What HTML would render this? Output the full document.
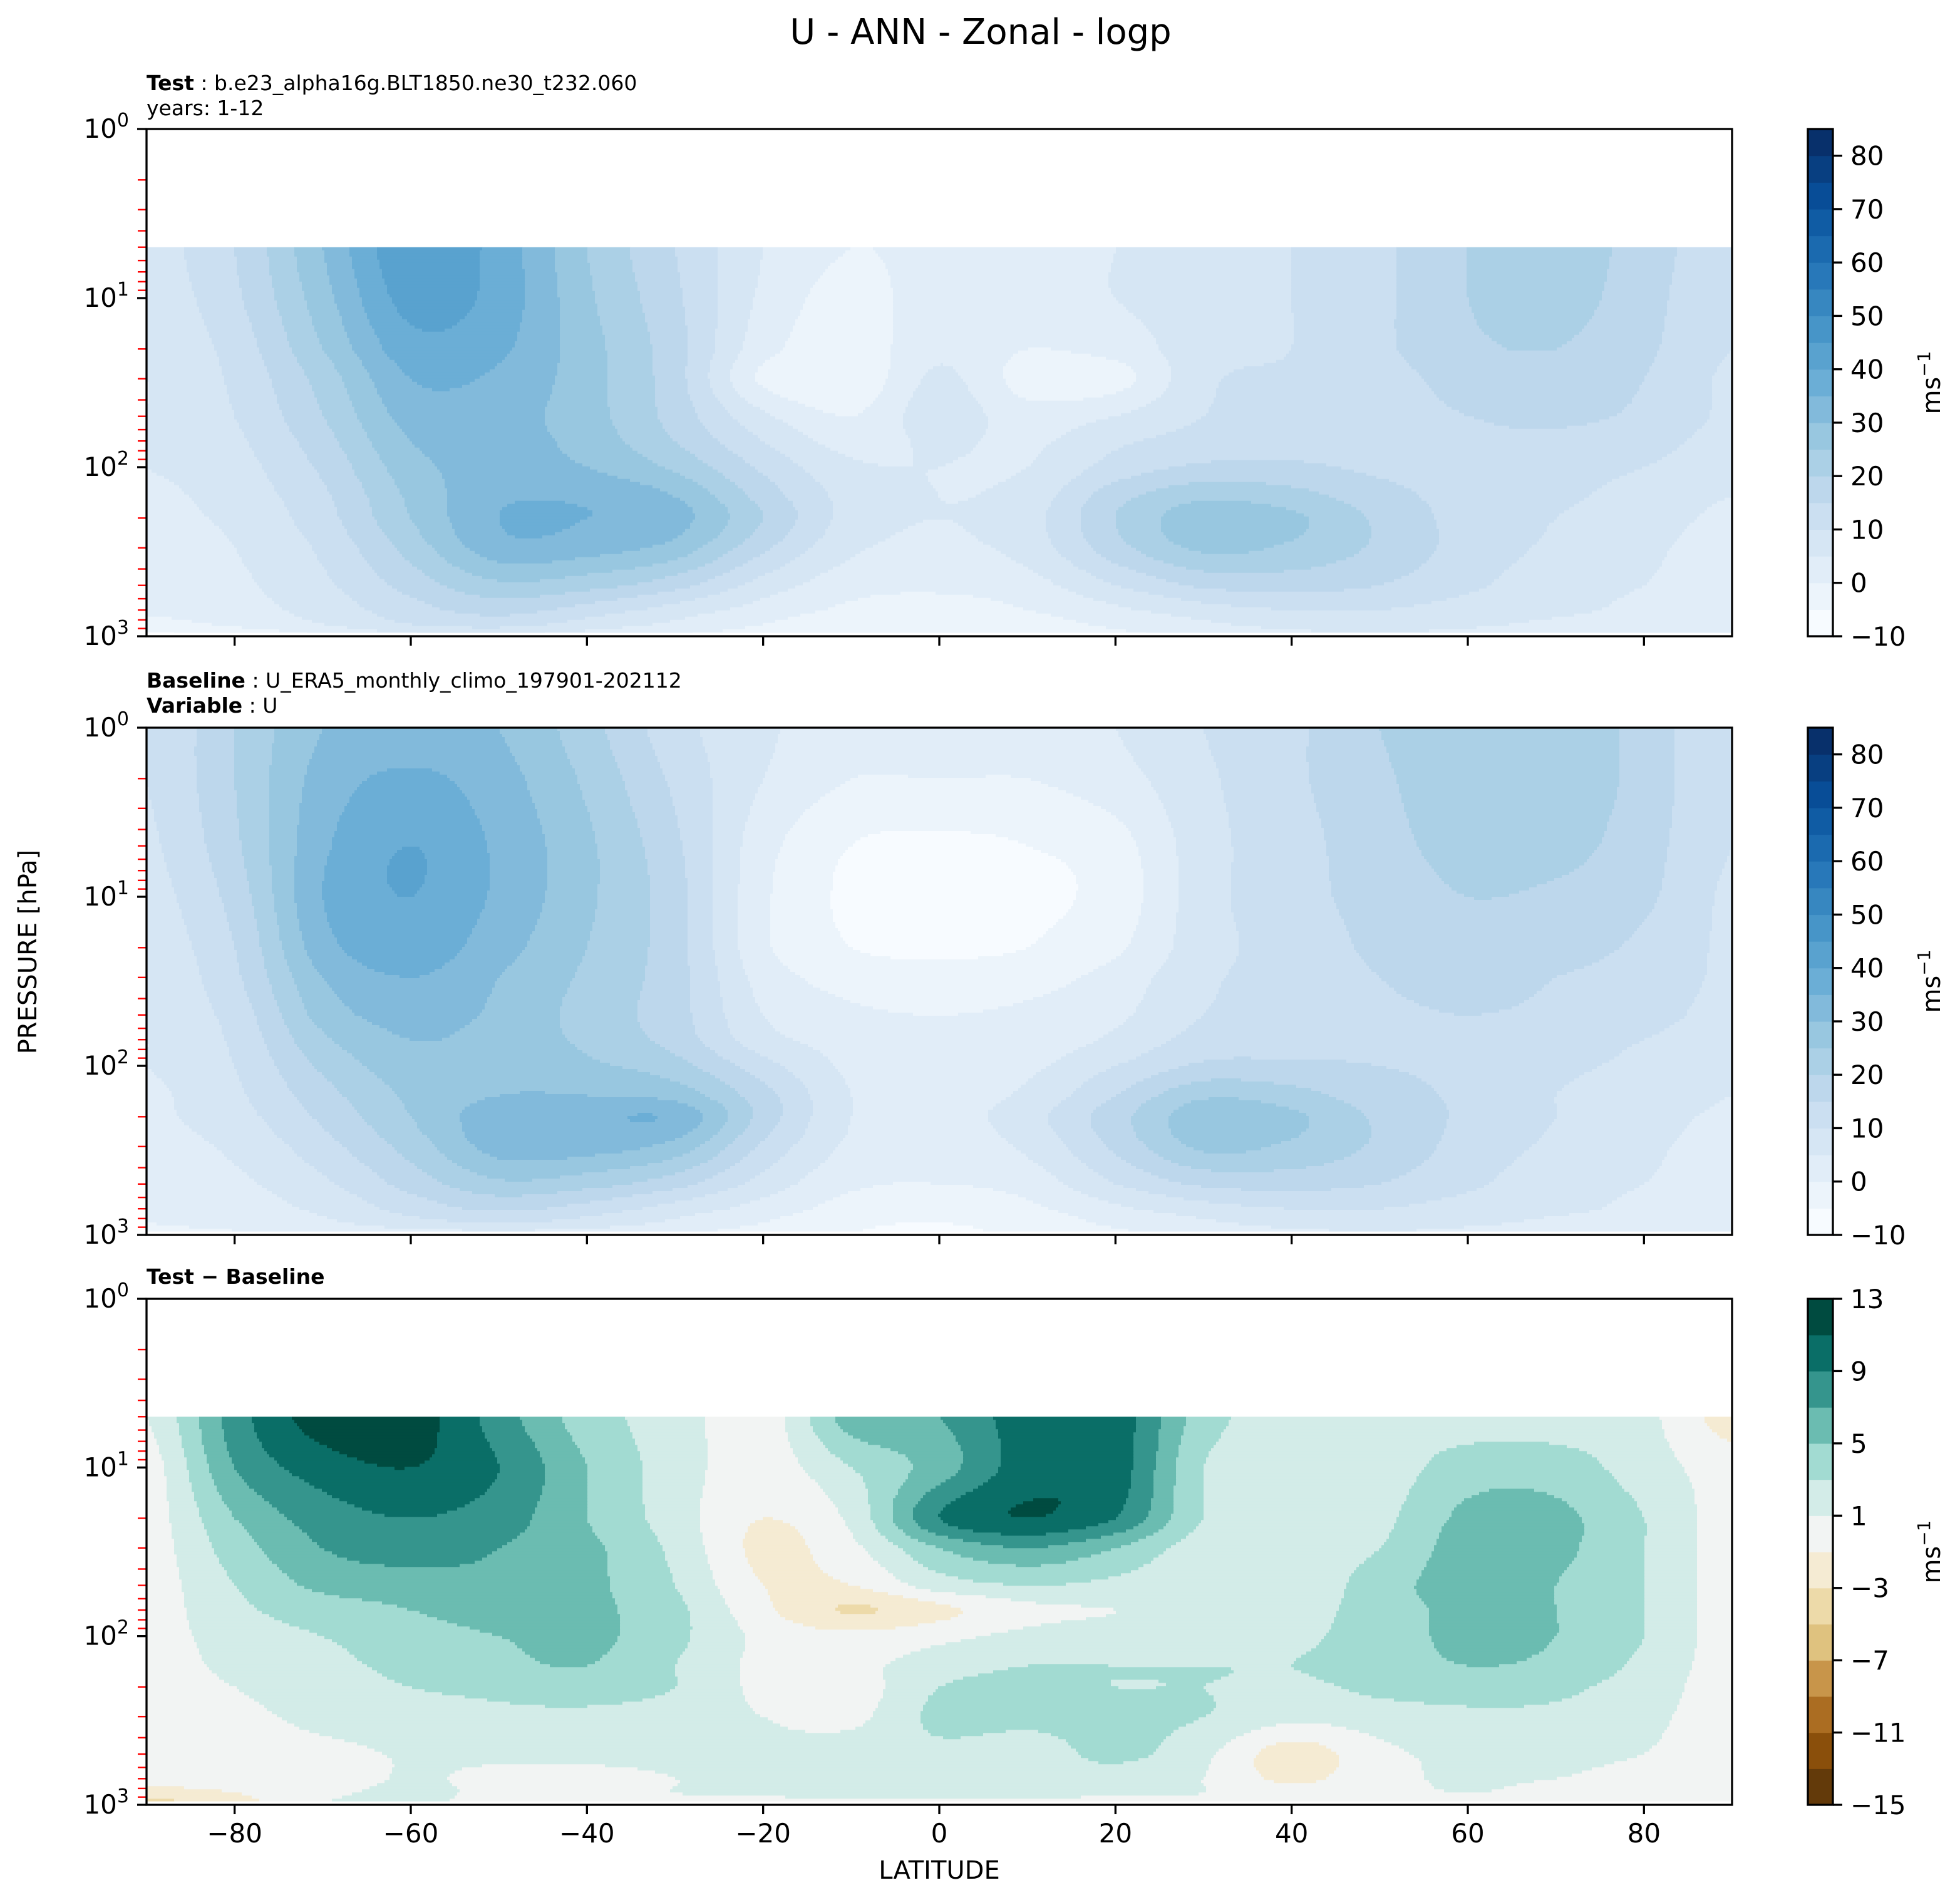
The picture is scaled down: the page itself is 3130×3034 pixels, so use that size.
<!DOCTYPE html>
<html><head><meta charset="utf-8"><style>
html,body{margin:0;padding:0;background:#fff;}
svg{display:block;font-family:"DejaVu Sans","Liberation Sans",sans-serif;}
</style></head><body>
<svg id="fig" xmlns="http://www.w3.org/2000/svg" width="3130" height="3034" viewBox="0 0 3130 3034">
<text x="1566" y="70" font-size="56" text-anchor="middle">U - ANN - Zonal - logp</text>
<text x="234" y="144" font-size="33"><tspan font-weight="bold">Test</tspan> : b.e23_alpha16g.BLT1850.ne30_t232.060</text>
<text x="234" y="184" font-size="33">years: 1-12</text>
<text x="234" y="1098" font-size="33"><tspan font-weight="bold">Baseline</tspan> : U_ERA5_monthly_climo_197901-202112</text>
<text x="234" y="1138" font-size="33"><tspan font-weight="bold">Variable</tspan> : U</text>
<text x="234" y="2050" font-size="33" font-weight="bold">Test − Baseline</text>
<text x="1500" y="3000" font-size="40" text-anchor="middle">LATITUDE</text>
<text x="0" y="0" font-size="40" text-anchor="middle" transform="translate(58,1520) rotate(-90)">PRESSURE [hPa]</text>
<g id="layers"></g>
</svg>
<script>
// ---------- DATA ----------
const lats = [-90,-80,-70,-60,-50,-40,-30,-20,-10,0,10,20,30,40,50,60,70,80,90];
const presTest = [5,10,20,30,50,70,100,150,200,300,500,700,850,1000];
const presBase = [1,2,5,10,20,30,50,70,100,150,200,300,500,700,850,1000];
const uTest = [
[8,7,6,5,5,5,5,4,4,3,2,1,-2,-6],
[15,14,12,11,10,9,8,7,6,5,4,3,1,-4],
[30,28,25,22,20,18,16,14,13,11,9,7,5,0],
[44,42,38,35,32,30,28,26,25,22,17,13,10,4],
[38,38,36,34,32,32,32,34,35,33,24,17,12,5],
[25,26,27,27,27,28,30,34,35,32,22,13,8,3],
[15,16,17,17,18,20,24,30,32,28,17,8,4,0],
[5,4,2,-1,6,10,14,18,20,16,8,3,0,-2],
[0,-2,-3,-4,0,3,6,8,8,6,2,-1,-3,-4],
[2,3,4,6,8,6,5,5,5,4,1,-2,-4,-5],
[3,2,0,-2,2,4,5,7,8,7,3,0,-2,-3],
[5,5,2,-2,5,9,12,18,20,18,10,4,1,-1],
[8,8,8,9,10,12,16,24,28,26,16,8,4,1],
[10,10,10,11,12,13,16,22,26,24,17,10,7,3],
[14,14,14,13,13,13,14,17,19,19,15,10,8,4],
[20,20,19,17,15,14,13,13,13,13,11,8,6,3],
[22,22,20,18,16,14,12,11,10,9,7,6,4,2],
[18,17,16,15,14,12,10,8,7,6,5,4,3,1],
[10,10,10,9,9,8,7,5,4,3,3,2,2,1]];
const uBase = [
[10,10,9,8,7,6,6,5,5,4,4,3,2,1,0,-2],
[20,20,19,17,15,14,12,11,10,9,8,6,4,3,2,-1],
[30,32,34,35,33,30,27,24,21,18,16,13,9,6,4,0],
[32,36,40,40,38,35,32,30,28,26,25,22,17,12,8,2],
[30,32,34,34,32,30,29,28,28,30,33,32,24,16,10,3],
[22,24,26,26,25,24,23,24,26,30,34,32,22,13,8,2],
[12,14,16,17,17,17,17,18,22,28,34,28,17,8,4,0],
[6,5,2,1,1,3,5,7,12,17,18,14,8,3,0,-2],
[2,0,-5,-6,-5,-2,1,3,4,5,5,4,1,-2,-4,-5],
[3,0,-6,-7,-6,-3,0,2,3,3,3,2,0,-3,-5,-6],
[3,0,-5,-6,-5,-2,1,2,4,6,8,6,2,-1,-3,-4],
[5,3,-2,-3,-1,2,4,6,10,15,18,16,10,4,1,-1],
[10,9,8,8,8,9,10,12,16,24,28,26,16,8,4,1],
[14,14,13,13,12,12,12,13,16,22,26,24,17,10,7,3],
[20,19,18,17,16,15,14,14,15,17,19,19,15,10,8,4],
[24,24,22,20,18,17,15,14,14,14,14,13,11,8,6,3],
[24,24,22,19,17,15,14,12,11,10,10,9,7,6,4,2],
[18,18,17,16,14,13,12,10,9,8,7,6,5,4,3,1],
[10,10,10,9,9,9,8,7,6,5,4,3,3,2,2,1]];
const uDiff = [
[1,0,0,0,0,0,0,0,0,0,0,0,-2,-4],
[8,7,5,4,3,2.5,2,1.5,1,0.5,0,0,-1,-2],
[12,10,8,7,5.5,4,3,2.5,2,1.5,0.5,0,0.5,1],
[12,11,9,8,6,5,4,3.5,3,2,1.2,1.2,1.5,1.5],
[8,9,8,7,6.5,6,5,4.5,3.5,2.5,1.5,0.5,0.5,0],
[4,5,5,5.5,5.5,5.5,5.5,5,4,2.5,1.5,0.5,0.5,0],
[2,2,2,2.5,3,3.5,3.5,3,3,2,1.5,1,1,0.5],
[0,0,-1,-1.5,-1,-0.5,0.5,0.5,0.5,1,1.5,1.5,1.2,0.5],
[6,3,1.5,0.5,-1,-3.2,-0.5,0.5,0,0.5,2,2,1.5,0.5],
[7,6,9,5,2,-1.5,0.5,2,3,3.5,2.5,2,1.5,0.5],
[10,10,11,7,3,0.5,1.5,3,3.5,3.5,2,2,1.5,0.5],
[10,10,9,5,2.5,1,2,3,3,3.5,3.5,2,1.2,0.5],
[4,3,3,2,1.5,1.5,2,3,3,3,1.5,1,1,0.5],
[2,2,2,2,1.5,2,2.5,3,2.5,1.5,-2,-1.5,0,0],
[2,2,2.5,3,4,4,4,4,3.5,2,0.5,0.5,0.5,0],
[2,4,5.5,6,6,5.5,5.5,5,4,2.5,1.5,1.2,1,0],
[2,4,5.5,5.5,5,5,5,4.5,3.5,2.5,1.5,1,0.5,0],
[1.5,2,3,3,3,3,3,2.5,2,1.5,1,0.5,0.5,0],
[-2,0,0,0,0,0,0,0,0,0,0,0,0,0]];
const xTicks = [-80,-60,-40,-20,0,20,40,60,80];
const cbTicksU = [-10,0,10,20,30,40,50,60,70,80];
const cbTicksD = [-15,-11,-7,-3,1,5,9,13];
const blues = ['#f7fbff','#deebf7','#c6dbef','#9ecae1','#6baed6','#4292c6','#2171b5','#08519c','#08306b'];
const brbg = ['#633a0a','#8a4f0b','#ab6d22','#c8954a','#dfc27f','#eddaa9','#f5ebd3','#f2f4f3','#d3ece8','#a2dbd2','#6bbcb1','#35958d','#0a6e67','#004b40'];

// ---------- LAYOUT ----------
const NS='http://www.w3.org/2000/svg';
const X0=234,X1=2766;
const panels=[{top:206,bot:1016},{top:1162,bot:1972},{top:2074,bot:2882}];
const CBX=2887,CBW=40;
const xOf=lat=>X0+(lat+90)/180*(X1-X0);
function mk(tag,attrs,parent){const e=document.createElementNS(NS,tag);for(const k in attrs)e.setAttribute(k,attrs[k]);parent.appendChild(e);return e;}
function hex2rgb(h){return [1,3,5].map(i=>parseInt(h.substr(i,2),16));}
function lerpCol(a,b,t){const A=hex2rgb(a),B=hex2rgb(b);return 'rgb('+A.map((v,i)=>Math.round(v+(B[i]-v)*t)).join(',')+')';}
function bluesAt(t){const s=t*(blues.length-1);const i=Math.min(blues.length-2,Math.floor(s));return lerpCol(blues[i],blues[i+1],s-i);}
const uBinCols=[];for(let i=0;i<19;i++)uBinCols.push(bluesAt(i/18));
function uColor(v){let i=Math.floor((v+10)/5);i=Math.max(0,Math.min(18,i));return uBinCols[i];}
function dColor(v){let i=Math.floor((v+15)/2);i=Math.max(0,Math.min(13,i));return brbg[i];}
const layers=document.getElementById('layers');

function cr(p0,p1,p2,p3,t){const t2=t*t,t3=t2*t;return 0.5*((2*p1)+(-p0+p2)*t+(2*p0-5*p1+4*p2-p3)*t2+(-p0+3*p1-3*p2+p3)*t3);}
function sample(grid,pres,lat,lp){
  const n=lats.length,m=pres.length;
  let fi=(lat+90)/10;fi=Math.max(0,Math.min(n-1.0001,fi));
  const i=Math.floor(fi),ti=fi-i;
  const lps=pres.map(p=>Math.log10(p));
  let fj;
  if(lp<=lps[0])fj=0;else if(lp>=lps[m-1])fj=m-1.0001;else{let j=0;while(j<m-2&&lps[j+1]<lp)j++;fj=j+(lp-lps[j])/(lps[j+1]-lps[j]);}
  const j=Math.floor(fj),tj=fj-j;
  const G=(a,b)=>grid[Math.max(0,Math.min(n-1,a))][Math.max(0,Math.min(m-1,b))];
  const col=k=>cr(G(k,j-1),G(k,j),G(k,j+1),G(k,j+2),tj);
  return cr(col(i-1),col(i),col(i+1),col(i+2),ti);
}

function drawField(pi,grid,pres,colorFn,name){
  const P=panels[pi];const H=P.bot-P.top;
  const g=mk('g',{},layers);
  
  
  const lpTop=Math.log10(pres[0]),lpBot=Math.log10(1000);
  const yTop=P.top+lpTop/3*H,yBot=P.top+lpBot/3*H-6;
  const dy=5,dx=4;
  for(let y=yTop;y<yBot;y+=dy){
    const lp=((y+dy/2)-P.top)/H*3;
    let runStart=X0,runCol=null;
    for(let x=X0;x<=X1;x+=dx){
      let c=null;
      if(x<X1){const lat=((x+dx/2)-X0)/(X1-X0)*180-90;c=colorFn(sample(grid,pres,lat,lp));}
      if(c!==runCol){
        if(runCol!==null){const r=mk('rect',{x:runStart,y:y,width:x-runStart+0.6,height:Math.min(dy,yBot-y)+0.6,fill:runCol},g);
          
          }
        runStart=x;runCol=c;
      }
    }
  }
}
drawField(0,uTest,presTest,uColor,'test-contour-field');
drawField(1,uBase,presBase,uColor,'baseline-contour-field');
drawField(2,uDiff,presTest,dColor,'difference-contour-field');

// axes
panels.forEach((P,pi)=>{
  const g=mk('g',{},layers);
  
  
  const H=P.bot-P.top;
  for(let d=0;d<3;d++)for(let m=2;m<=9;m++){
    const y=P.top+(d+Math.log10(m))/3*H;
    mk('line',{x1:X0-14,x2:X0,y1:y,y2:y,stroke:'#ff0000','stroke-width':2.4},g);
  }
  for(let d=0;d<=3;d++){
    const y=P.top+d/3*H;
    mk('line',{x1:X0-15,x2:X0,y1:y,y2:y,stroke:'#000','stroke-width':3.3},g);
    const t=mk('text',{x:X0-28,y:y+14,'font-size':42,'text-anchor':'end'},g);
    
    
    t.innerHTML='10<tspan dy="-18" font-size="30">'+d+'</tspan>';
  }
  xTicks.forEach(v=>{
    const x=xOf(v);
    mk('line',{x1:x,x2:x,y1:P.bot,y2:P.bot+15,stroke:'#000','stroke-width':3.3},g);
    if(pi===2){const t=mk('text',{x:x,y:P.bot+60,'font-size':42,'text-anchor':'middle'},g);
      
      
      t.textContent=(v<0?'−':'')+Math.abs(v);}
  });
  const fr=mk('rect',{x:X0,y:P.top,width:X1-X0,height:H,fill:'none',stroke:'#000','stroke-width':3.3},g);
  
  
});

// colorbars
function colorbar(P,nb,vmin,step,colFn,ticks,name){
  const g=mk('g',{},layers);
  
  
  const H=P.bot-P.top;const bh=H/nb;
  for(let i=0;i<nb;i++){
    const r=mk('rect',{x:CBX,y:P.bot-(i+1)*bh,width:CBW,height:bh+0.6,fill:colFn(vmin+step*(i+0.5))},g);
    
    
  }
  mk('rect',{x:CBX,y:P.top,width:CBW,height:H,fill:'none',stroke:'#000','stroke-width':3.3},g);
  const vmax=vmin+step*nb;
  ticks.forEach(v=>{
    const y=P.bot-(v-vmin)/(vmax-vmin)*H;
    mk('line',{x1:CBX+CBW,x2:CBX+CBW+15,y1:y,y2:y,stroke:'#000','stroke-width':3.3},g);
    const t=mk('text',{x:CBX+CBW+28,y:y+15,'font-size':42},g);
    
    
    t.textContent=(v<0?'−':'')+Math.abs(v);
  });
  const lb=mk('text',{x:0,y:0,'font-size':40,'text-anchor':'middle',transform:'translate(3098,'+((P.top+P.bot)/2)+') rotate(-90)'},g);
  
  
  lb.innerHTML='ms<tspan dy="-16" font-size="28">−1</tspan>';
}
colorbar(panels[0],19,-10,5,uColor,cbTicksU,'test-colorbar');
colorbar(panels[1],19,-10,5,uColor,cbTicksU,'baseline-colorbar');
colorbar(panels[2],14,-15,2,dColor,cbTicksD,'difference-colorbar');
</script>
</body></html>
